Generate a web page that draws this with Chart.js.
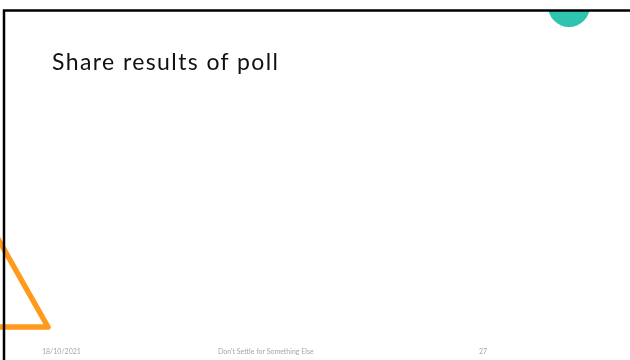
<!DOCTYPE html>
<html>
<head>
<meta charset="utf-8">
<script src="https://cdn.jsdelivr.net/npm/chart.js@4/dist/chart.umd.min.js"></script>
<style>
    html, body { margin: 0; padding: 0; background: #fff; }
    #slide { position: relative; width: 630px; height: 360px; overflow: hidden; }
    #deco { position: absolute; left: 0; top: 0; }
    .title {
        position: absolute; left: 52px; top: 46px; margin: 0;
        font-family: 'Lato', sans-serif; font-weight: normal; font-size: 23px;
        letter-spacing: 1.4px; line-height: 30px; color: #111; white-space: nowrap;
    }
    .foot {
        position: absolute; top: 345px; font-family: 'Lato', sans-serif;
        font-size: 7px; line-height: 12px; color: #a6a6a6; white-space: nowrap;
    }
</style>
</head>
<body>
<div id="slide">
    <canvas id="deco" width="630" height="360"></canvas>
    <h1 class="title">Share results of poll</h1>
    <div class="foot" style="left:42px">18/10/2021</div>
    <div class="foot" style="left:218px">Don't Settle for Something Else</div>
    <div class="foot" style="left:479px">27</div>
</div>
<script>
// slide coordinates (x to the right, y downward), 630 x 360
const frameX = [4, 4, 630];
const frameY = [360, 10.5, 10.5];

const triangleX = [-16, 48, -16, -16];
const triangleY = [214, 327, 327, 214];

const circleX = [569];
const circleY = [6];
const circleR = [21];

function toPoints(xs, ys) {
    return xs.map((x, i) => ({ x: x, y: ys[i] }));
}

window.onload = () => {
    const ctx = document.getElementById('deco').getContext('2d');
    new Chart(ctx, {
        type: 'line',
        data: {
            datasets: [
                {
                    label: 'frame',
                    data: toPoints(frameX, frameY),
                    borderColor: '#000',
                    borderWidth: 2.5,
                    pointRadius: 0,
                    tension: 0,
                    clip: false,
                    order: 0
                },
                {
                    label: 'triangle',
                    data: toPoints(triangleX, triangleY),
                    borderColor: '#ff9a1e',
                    borderWidth: 5.5,
                    borderJoinStyle: 'round',
                    borderCapStyle: 'round',
                    pointRadius: 0,
                    tension: 0,
                    order: 1
                },
                {
                    type: 'bubble',
                    label: 'circle',
                    data: circleX.map((x, i) => ({ x: x, y: circleY[i], r: circleR[i] })),
                    backgroundColor: '#2ec4b0',
                    borderWidth: 0,
                    hoverRadius: 0,
                    clip: { left: 0, top: -10, right: 0, bottom: 0 },
                    order: 2
                }
            ]
        },
        options: {
            responsive: false,
            animation: false,
            events: [],
            layout: { padding: 0, autoPadding: false },
            scales: {
                x: { type: 'linear', min: 0, max: 630, display: false },
                y: { type: 'linear', min: 0, max: 360, reverse: true, display: false }
            },
            plugins: {
                legend: { display: false },
                tooltip: { enabled: false }
            }
        }
    });
};
</script>
</body>
</html>
